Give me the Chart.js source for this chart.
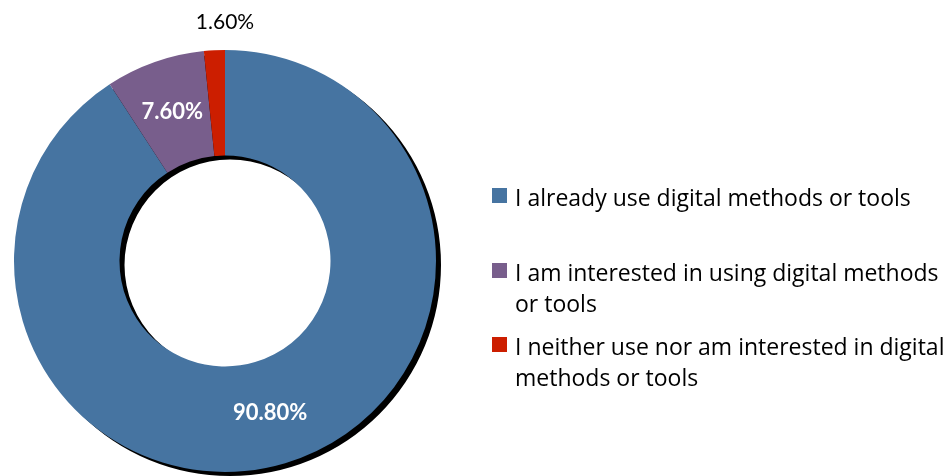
<!DOCTYPE html>
<html>
<head>
<meta charset="utf-8">
<script src="https://cdn.jsdelivr.net/npm/chart.js@4.4.0/dist/chart.umd.min.js"></script>
<style>
  body { margin: 0; background: #fff; }
  #wrap { position: relative; width: 952px; height: 476px; overflow: hidden; }
  #legend { position: absolute; left: 492px; top: 0; margin: 0; padding: 0; list-style: none; }
  #legend li { position: absolute; left: 0; width: 460px; font: 23px "Open Sans", sans-serif; line-height: 31px; color: #000; }
  #legend .box { position: absolute; left: 0; top: 6px; width: 15px; height: 15px; }
  #legend .text { display: block; margin-left: 23px; width: 437px; }
</style>
</head>
<body>
<div id="wrap">
  <canvas id="usageChart" width="952" height="476"></canvas>
  <ul id="legend"></ul>
</div>
<script>
const categories = [
  'I already use digital methods or tools',
  'I am interested in using digital methods or tools',
  'I neither use nor am interested in digital methods or tools',
];
const shares = [90.8, 7.6, 1.6];
const sliceColors = ['#4674A1', '#785E8C', '#CC1E00'];
const legendTops = [182, 257, 331];

// black ring drawn a few pixels down-right of the doughnut, gives the drop shadow
const ringShadow = {
  id: 'ringShadow',
  beforeDatasetsDraw(chart) {
    const arc = chart.getDatasetMeta(0).data[0];
    if (!arc) return;
    const { x, y, innerRadius, outerRadius } = arc.getProps(['x', 'y', 'innerRadius', 'outerRadius'], true);
    const ctx = chart.ctx;
    ctx.save();
    ctx.fillStyle = '#000';
    ctx.beginPath();
    ctx.arc(x + 5, y + 4, outerRadius, 0, Math.PI * 2);
    ctx.arc(x + 5, y + 4, innerRadius, 0, Math.PI * 2, true);
    ctx.fill();
    ctx.restore();
  },
};

// percentage labels: inside the big slices, above the ring for the thin one
const sliceLabels = {
  id: 'sliceLabels',
  afterDatasetsDraw(chart) {
    const ctx = chart.ctx;
    chart.getDatasetMeta(0).data.forEach((arc, i) => {
      const text = shares[i].toFixed(2) + '%';
      ctx.save();
      ctx.textAlign = 'center';
      ctx.textBaseline = 'middle';
      if (shares[i] >= 5) {
        const pos = arc.tooltipPosition();
        ctx.font = 'bold 22px Lato';
        ctx.fillStyle = '#fff';
        ctx.fillText(text, pos.x, pos.y);
      } else {
        const { x, y, endAngle, outerRadius } = arc.getProps(['x', 'y', 'endAngle', 'outerRadius'], true);
        const r = outerRadius + 28;
        ctx.font = '21px Lato';
        ctx.fillStyle = '#000';
        ctx.fillText(text, x + r * Math.cos(endAngle), y + r * Math.sin(endAngle));
      }
      ctx.restore();
    });
  },
};

const usageChart = new Chart(document.getElementById('usageChart'), {
  type: 'doughnut',
  data: {
    labels: categories,
    datasets: [{
      data: shares,
      backgroundColor: sliceColors,
      borderWidth: 0,
    }],
  },
  options: {
    responsive: false,
    animation: false,
    cutout: '50%',
    layout: { padding: { top: 50, bottom: 4, left: 14, right: 516 } },
    plugins: {
      legend: { display: false },
      tooltip: { enabled: false },
    },
  },
  plugins: [ringShadow, sliceLabels],
});

// legend built from the chart's own legend items
const legendEl = document.getElementById('legend');
usageChart.options.plugins.legend.labels.generateLabels(usageChart).forEach((item, i) => {
  const li = document.createElement('li');
  li.style.top = legendTops[i] + 'px';
  const box = document.createElement('span');
  box.className = 'box';
  box.style.background = item.fillStyle;
  const label = document.createElement('span');
  label.className = 'text';
  label.textContent = item.text;
  li.appendChild(box);
  li.appendChild(label);
  legendEl.appendChild(li);
});
</script>
</body>
</html>
